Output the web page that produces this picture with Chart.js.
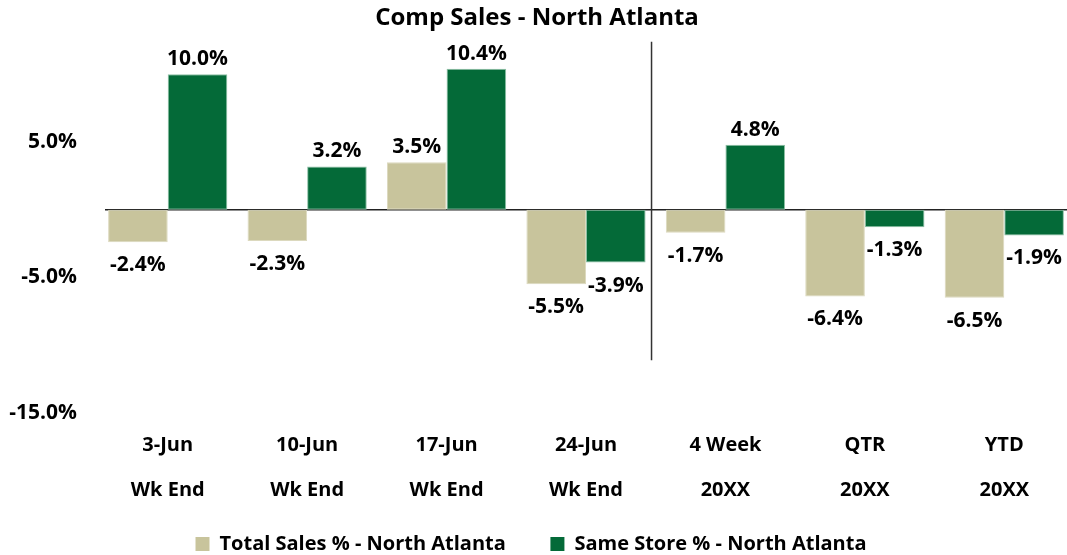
<!DOCTYPE html>
<html>
<head>
<meta charset="utf-8">
<script src="https://cdn.jsdelivr.net/npm/chart.js@4.4.1/dist/chart.umd.min.js"></script>
<style>
html,body{margin:0;padding:0;background:#fff;overflow:hidden;width:1067px;height:555px;}
canvas{display:block;}
</style>
</head>
<body>
<canvas id="c" width="1080" height="555"></canvas>
<script>
const categories = [['3-Jun','Wk End'],['10-Jun','Wk End'],['17-Jun','Wk End'],['24-Jun','Wk End'],['4 Week','20XX'],['QTR','20XX'],['YTD','20XX']];
const totalSales = [-2.4, -2.3, 3.5, -5.5, -1.7, -6.4, -6.5];
const sameStore = [10.0, 3.2, 10.4, -3.9, 4.8, -1.3, -1.9];
const yTicks = [-15, -5, 5];
const seriesNames = ['Total Sales % - North Atlanta', 'Same Store % - North Atlanta'];
const titleText = 'Comp Sales - North Atlanta';

const FONT = '"Open Sans", Lato, sans-serif';

const labelPlugin = {
  id: 'valLabels',
  afterDatasetsDraw(chart) {
    const ctx = chart.ctx;
    ctx.save();
    ctx.font = 'bold 21px ' + FONT;
    ctx.fillStyle = '#000';
    ctx.textAlign = 'center';
    ctx.textBaseline = 'middle';
    chart.data.datasets.forEach((ds, di) => {
      const meta = chart.getDatasetMeta(di);
      meta.data.forEach((bar, i) => {
        const v = ds.data[i];
        const y = v >= 0 ? bar.y - 15 : bar.y + 23;
        ctx.fillText(v.toFixed(1) + '%', bar.x, y);
      });
    });
    ctx.restore();
  }
};

const linesPlugin = {
  id: 'lines',
  beforeDatasetsDraw(chart) {
    const ctx = chart.ctx;
    const xs = chart.scales.x, ys = chart.scales.y;
    ctx.save();
    ctx.strokeStyle = '#222';
    ctx.lineWidth = 1.5;
    const y0 = ys.getPixelForValue(0);
    ctx.beginPath();
    ctx.moveTo(chart.chartArea.left + 7, y0);
    ctx.lineTo(chart.width, y0);
    ctx.stroke();
    ctx.strokeStyle = '#333';
    ctx.lineWidth = 1.5;
    const xv = xs.getPixelForValue(3.47);
    ctx.beginPath();
    ctx.moveTo(xv, ys.getPixelForValue(12.4));
    ctx.lineTo(xv, ys.getPixelForValue(-11.1));
    ctx.stroke();
    ctx.restore();
  }
};

const legendShift = {
  id: 'legendShift',
  afterLayout(chart) {
    if (chart.legend) { chart.legend.left -= 6; chart.legend.right -= 6; }
  }
};

new Chart(document.getElementById('c'), {
  type: 'bar',
  data: {
    labels: categories,
    datasets: [
      { label: seriesNames[0], data: totalSales, backgroundColor: '#C8C49C', borderColor: '#DCD9BE', borderWidth: 1, borderSkipped: false },
      { label: seriesNames[1], data: sameStore, backgroundColor: '#046A38', borderColor: '#8CC0A4', borderWidth: 1, borderSkipped: false }
    ]
  },
  options: {
    responsive: false,
    animation: false,
    layout: { padding: { left: 0, right: 6, top: 0, bottom: 0 } },
    datasets: { bar: { categoryPercentage: 0.855, barPercentage: 1.0 } },
    plugins: {
      title: { display: true, text: titleText, color: '#000', font: { family: FONT, size: 24, weight: 'bold' }, padding: { top: 2, bottom: 1 } },
      legend: {
        position: 'bottom',
        maxHeight: 50,
        labels: {
          color: '#000', font: { family: FONT, size: 20, weight: 'bold' }, boxWidth: 14, boxHeight: 14, padding: 29,
          generateLabels(chart) {
            const items = Chart.defaults.plugins.legend.labels.generateLabels(chart);
            items.forEach((it, i) => { if (i < items.length - 1) it.text = it.text + '   '; it.lineWidth = 0; });
            return items;
          }
        }
      },
      tooltip: { enabled: false }
    },
    scales: {
      x: {
        grid: { display: false, drawTicks: false },
        border: { display: false },
        afterFit(scale) { scale.height = 555 - 413 - 50; },
        ticks: { color: '#000', font: { family: FONT, size: 20, weight: 'bold', lineHeight: 2.25 }, padding: 10, maxRotation: 0, autoSkip: false }
      },
      y: {
        min: -15, max: 13,
        grid: { display: false, drawTicks: false },
        border: { display: false },
        afterBuildTicks(scale) { scale.ticks = yTicks.map(v => ({ value: v })); },
        afterFit(scale) { scale.width = 98; },
        ticks: { color: '#000', font: { family: FONT, size: 21, weight: 'bold' }, padding: 21, callback: v => v.toFixed(1) + '%' }
      }
    }
  },
  plugins: [labelPlugin, linesPlugin, legendShift]
});
</script>
</body>
</html>
